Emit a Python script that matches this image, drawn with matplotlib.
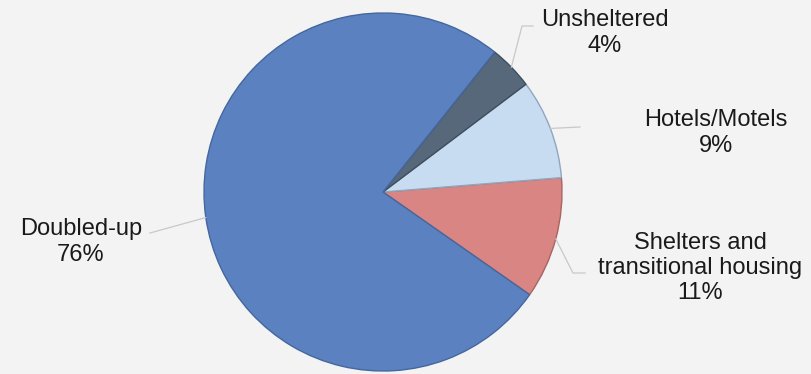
import numpy as np
import matplotlib.pyplot as plt

# Datos del gráfico
categorias = ['Shelters and\ntransitional housing', 'Hotels/Motels', 'Unsheltered', 'Doubled-up']
valores = [11, 9, 4, 76]
colores = ['#d88583', '#c8dcf1', '#56687a', '#5b81c1']
bordes = ['#a86462', '#8fa6bf', '#3f4e5c', '#44679e']

plt.rcParams['font.family'] = ['Liberation Sans', 'DejaVu Sans']

fig = plt.figure(figsize=(8.11, 3.74), dpi=100, facecolor='#f3f3f3')
ax = fig.add_axes([0, 0, 1, 1])

centro = (383, 182)
radio = 179
wedges, _ = ax.pie(valores, colors=colores, startangle=-35, counterclock=True,
                   center=centro, radius=radio, frame=True,
                   wedgeprops=dict(linewidth=1.0))
for w, b in zip(wedges, bordes):
    w.set_edgecolor(b)
ax.set_xlim(0, 811)
ax.set_ylim(0, 374)
ax.set_aspect('equal')
ax.axis('off')

# Posiciones de las etiquetas y codos de las líneas guía
etiquetas_pos = [(700, 106), (716, 241), (605, 341), (81, 132)]
codos = [[(573, 101), (585, 101)], [(580, 247)], [(522, 348), (533, 348)], [(150, 141)]]

for w, cat, val, pos, codo in zip(wedges, categorias, valores, etiquetas_pos, codos):
    ang = np.deg2rad((w.theta1 + w.theta2) / 2)
    x0 = centro[0] + radio * np.cos(ang)
    y0 = centro[1] + radio * np.sin(ang)
    xs = [x0] + [c[0] for c in codo]
    ys = [y0] + [c[1] for c in codo]
    ax.plot(xs, ys, color='#c8c8c8', linewidth=0.9)
    ax.text(pos[0], pos[1], f'{cat}\n{val}%', ha='center', va='center',
            fontsize=17, color='#1a1a1a', linespacing=1.2)

fig.savefig('out.png', dpi=100, facecolor=fig.get_facecolor())
